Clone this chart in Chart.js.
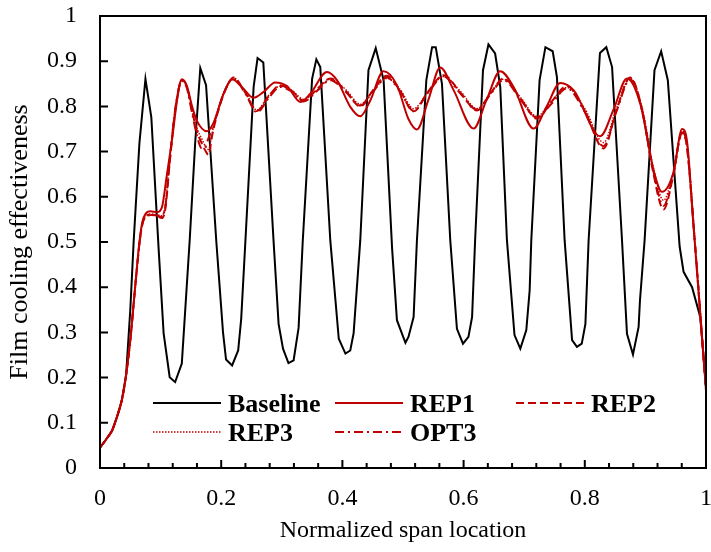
<!DOCTYPE html>
<html><head><meta charset="utf-8">
<script src="https://cdn.jsdelivr.net/npm/chart.js@4.4.1/dist/chart.umd.min.js"></script>
<style>html,body{margin:0;padding:0;background:#fff;}#wrap{width:711px;height:552px;}</style>
</head><body><div id="wrap"><canvas id="c" width="711" height="552"></canvas></div>
<script>
const xTickValues = [0,0.04,0.08,0.12,0.16,0.2,0.24,0.28,0.32,0.36,0.4,0.44,0.48,0.52,0.56,0.6,0.64,0.68,0.72,0.76,0.8,0.84,0.88,0.92,0.96,1];
const xTickLabels = ['0','0.2','0.4','0.6','0.8','1'];
const yTickValues = [0,0.1,0.2,0.3,0.4,0.5,0.6,0.7,0.8,0.9,1];
const yTickLabels = ['0','0.1','0.2','0.3','0.4','0.5','0.6','0.7','0.8','0.9','1'];
const seriesNames = ['Baseline','REP1','REP2','REP3','OPT3'];

const baselineX = [
0,0.010,0.020,0.028,0.036,0.043,0.050,0.0555,0.065,0.075,
0.0847,0.0967,0.105,0.115,0.124,0.135,0.148,0.157,0.1655,0.175,
0.192,0.203,0.208,0.218,0.228,0.233,0.240,0.2535,0.260,0.2695,
0.2865,0.2947,0.302,0.311,0.3195,0.3277,0.3345,0.350,0.357,0.3635,
0.380,0.394,0.405,0.413,0.4185,0.4295,0.443,0.455,0.468,0.482,
0.490,0.504,0.509,0.5175,0.523,0.5385,0.548,0.554,0.5643,0.578,
0.589,0.599,0.608,0.614,0.619,0.632,0.641,0.652,0.6605,0.6715,
0.684,0.6936,0.7035,0.709,0.7117,0.7254,0.735,0.747,0.754,0.7667,
0.779,0.787,0.795,0.801,0.8063,0.825,0.8355,0.845,0.8614,0.8696,
0.8795,0.8888,0.891,0.8987,0.915,0.926,0.937,0.9565,0.963,0.977,
0.9905,1.000];
const baselineY = [
0.045,0.063,0.083,0.113,0.150,0.205,0.350,0.500,0.718,0.861,
0.776,0.486,0.298,0.201,0.190,0.231,0.504,0.718,0.885,0.847,
0.500,0.300,0.240,0.227,0.260,0.330,0.504,0.843,0.907,0.897,
0.500,0.319,0.264,0.232,0.238,0.310,0.500,0.861,0.904,0.887,
0.504,0.286,0.253,0.260,0.298,0.504,0.880,0.929,0.858,0.486,
0.327,0.277,0.290,0.334,0.504,0.858,0.931,0.931,0.850,0.504,
0.308,0.275,0.290,0.334,0.504,0.880,0.937,0.917,0.843,0.504,
0.294,0.264,0.305,0.393,0.504,0.858,0.931,0.922,0.865,0.504,
0.283,0.268,0.275,0.319,0.504,0.918,0.931,0.887,0.504,0.297,
0.251,0.312,0.370,0.504,0.880,0.922,0.858,0.490,0.434,0.400,
0.334,0.180];

const rep1X = [
0,0.01,0.02,0.028,0.036,0.043,0.05,0.058,0.0654,0.07,
0.075,0.083,0.094,0.102,0.110,0.119,0.127,0.135,0.1435,0.152,
0.160,0.1765,0.1875,0.204,0.218,0.234,0.2535,0.270,0.289,0.3085,
0.3305,0.347,0.3745,0.391,0.413,0.4295,0.446,0.468,0.490,0.509,
0.523,0.542,0.5615,0.5835,0.6165,0.638,0.6605,0.6825,0.7155,0.737,
0.7595,0.7815,0.8255,0.848,0.8695,0.8915,0.9135,0.9275,0.9465,0.9605,
0.9685,0.9795,0.9825,1.0];
const rep1Y = [
0.045,0.063,0.083,0.113,0.150,0.205,0.283,0.400,0.504,0.545,
0.562,0.568,0.566,0.576,0.645,0.728,0.812,0.860,0.845,0.800,
0.768,0.745,0.764,0.828,0.860,0.843,0.819,0.832,0.853,0.845,
0.810,0.828,0.876,0.858,0.799,0.778,0.813,0.878,0.847,0.772,
0.749,0.815,0.886,0.836,0.751,0.815,0.878,0.843,0.751,0.800,
0.852,0.836,0.734,0.795,0.862,0.806,0.659,0.611,0.655,0.750,
0.725,0.533,0.482,0.172];

const repX = [
0,0.01,0.02,0.028,0.036,0.043,0.05,0.058,
0.0654,0.07,0.075,0.085,0.095,0.102,0.108,0.115,
0.125,0.135,0.143,0.152,0.16,0.168,0.174,0.179,
0.185,0.19,0.205,0.2205,0.24,0.259,0.278,0.2975,
0.316,0.336,0.358,0.38,0.405,0.4295,0.45,0.4735,
0.495,0.5175,0.54,0.567,0.595,0.622,0.645,0.666,
0.695,0.721,0.745,0.7705,0.8,0.831,0.852,0.875,
0.895,0.912,0.93,0.945,0.9605,0.968,0.9825,1.0];
const rep2Y = [
0.045,0.063,0.083,0.113,0.150,0.205,0.283,0.400,
0.500,0.540,0.555,0.560,0.557,0.553,0.575,0.675,
0.800,0.858,0.845,0.790,0.745,0.718,0.702,0.693,
0.735,0.765,0.830,0.864,0.830,0.790,0.822,0.847,
0.835,0.813,0.838,0.862,0.835,0.800,0.835,0.868,
0.835,0.789,0.830,0.869,0.830,0.791,0.830,0.862,
0.815,0.773,0.810,0.845,0.790,0.707,0.790,0.864,
0.790,0.660,0.572,0.640,0.740,0.715,0.482,0.172];
const rep3Y = [
0.045,0.063,0.083,0.113,0.150,0.205,0.283,0.400,
0.502,0.542,0.557,0.562,0.560,0.558,0.585,0.685,
0.805,0.857,0.846,0.795,0.752,0.728,0.712,0.705,
0.740,0.770,0.834,0.860,0.832,0.792,0.824,0.845,
0.836,0.816,0.836,0.860,0.838,0.805,0.834,0.862,
0.838,0.795,0.829,0.866,0.833,0.795,0.831,0.860,
0.818,0.778,0.812,0.842,0.795,0.720,0.795,0.862,
0.795,0.672,0.592,0.650,0.745,0.720,0.490,0.172];
const opt3Y = [
0.045,0.063,0.083,0.113,0.150,0.205,0.283,0.400,
0.500,0.540,0.556,0.561,0.558,0.556,0.580,0.680,
0.802,0.856,0.842,0.785,0.735,0.707,0.712,0.730,
0.750,0.770,0.832,0.862,0.828,0.787,0.818,0.843,
0.833,0.811,0.834,0.858,0.833,0.802,0.832,0.864,
0.833,0.790,0.828,0.866,0.828,0.793,0.828,0.858,
0.813,0.775,0.806,0.840,0.788,0.712,0.788,0.860,
0.788,0.664,0.580,0.645,0.742,0.718,0.485,0.172];

const RED = '#C00000';
const pts = (xs, ys) => xs.map((x, i) => ({x: x, y: ys[i]}));

const frameTicksPlugin = {
  id: 'frameTicks',
  afterDatasetsDraw(chart) {
    const ctx = chart.ctx, a = chart.chartArea;
    const xs = chart.scales.x, ys = chart.scales.y;
    ctx.save();
    ctx.strokeStyle = '#000';
    ctx.lineWidth = 2;
    ctx.beginPath();
    xs.ticks.forEach(t => {
      const px = xs.getPixelForValue(t.value);
      const major = Math.abs(t.value / 0.2 - Math.round(t.value / 0.2)) < 1e-6;
      ctx.moveTo(px, a.bottom);
      ctx.lineTo(px, a.bottom - (major ? 8 : 5));
    });
    ys.ticks.forEach(t => {
      const py = ys.getPixelForValue(t.value);
      ctx.moveTo(a.left, py);
      ctx.lineTo(a.left + 8, py);
    });
    ctx.stroke();
    ctx.strokeRect(a.left, a.top, a.right - a.left, a.bottom - a.top);
    ctx.restore();
  }
};

const legendPlugin = {
  id: 'insideLegend',
  afterDraw(chart) {
    const ctx = chart.ctx;
    const colX = [153, 335, 516], rowY = [403, 432];
    chart.data.datasets.forEach((ds, i) => {
      const x = colX[i % 3], y = rowY[Math.floor(i / 3)];
      ctx.save();
      ctx.strokeStyle = ds.borderColor;
      ctx.lineWidth = ds.borderWidth;
      ctx.setLineDash(ds.borderDash || []);
      ctx.beginPath();
      ctx.moveTo(x, y);
      ctx.lineTo(x + 68, y);
      ctx.stroke();
      ctx.setLineDash([]);
      ctx.fillStyle = '#000';
      ctx.font = 'bold 26px "Liberation Serif"';
      ctx.textBaseline = 'alphabetic';
      ctx.textAlign = 'left';
      ctx.fillText(ds.label, x + 75, y + 9);
      ctx.restore();
    });
  }
};

Chart.defaults.font.family = '"Liberation Serif", "Times New Roman", serif';
Chart.defaults.color = '#000';

new Chart(document.getElementById('c'), {
  type: 'line',
  data: {
    datasets: [
      {label: seriesNames[0], data: pts(baselineX, baselineY), borderColor: '#000', borderWidth: 2, pointRadius: 0, tension: 0, order: 5},
      {label: seriesNames[1], data: pts(rep1X, rep1Y), borderColor: RED, borderWidth: 2, pointRadius: 0, cubicInterpolationMode: 'monotone', order: 4},
      {label: seriesNames[2], data: pts(repX, rep2Y), borderColor: RED, borderWidth: 2, borderDash: [8, 4], pointRadius: 0, cubicInterpolationMode: 'monotone', order: 3},
      {label: seriesNames[3], data: pts(repX, rep3Y), borderColor: RED, borderWidth: 1.5, borderDash: [1.5, 1.5], pointRadius: 0, cubicInterpolationMode: 'monotone', order: 2},
      {label: seriesNames[4], data: pts(repX, opt3Y), borderColor: RED, borderWidth: 2, borderDash: [9, 4, 2, 4], pointRadius: 0, cubicInterpolationMode: 'monotone', order: 1}
    ]
  },
  options: {
    responsive: false,
    animation: false,
    devicePixelRatio: 1,
    events: [],
    layout: {padding: {left: 0, right: 5, top: 16, bottom: 0}},
    plugins: {legend: {display: false}, tooltip: {enabled: false}},
    scales: {
      x: {
        type: 'linear', min: 0, max: 1,
        grid: {display: false, drawTicks: false},
        border: {display: false},
        afterBuildTicks: s => { s.ticks = xTickValues.map(v => ({value: v})); },
        afterFit: s => { s.height = 84; s.paddingLeft = 0; s.paddingRight = 0; },
        ticks: {
          autoSkip: false, maxRotation: 0, padding: 16,
          font: {size: 24},
          callback: v => { const k = Math.round(v / 0.2); return Math.abs(v - k * 0.2) < 1e-6 ? xTickLabels[k] : ''; }
        },
        title: {display: true, text: 'Normalized span location', font: {size: 24}, padding: {top: 0, bottom: 7}}
      },
      y: {
        type: 'linear', min: 0, max: 1,
        grid: {display: false, drawTicks: false},
        border: {display: false},
        afterBuildTicks: s => { s.ticks = yTickValues.map(v => ({value: v})); },
        afterFit: s => { s.width = 100; s.paddingTop = 0; s.paddingBottom = 0; },
        ticks: {
          autoSkip: false, padding: 23,
          font: {size: 24},
          callback: v => yTickLabels[Math.round(v * 10)]
        },
        title: {display: true, text: 'Film cooling effectiveness', font: {size: 26}, padding: {top: 5, bottom: 0}}
      }
    }
  },
  plugins: [frameTicksPlugin, legendPlugin]
});
</script>
</body></html>
